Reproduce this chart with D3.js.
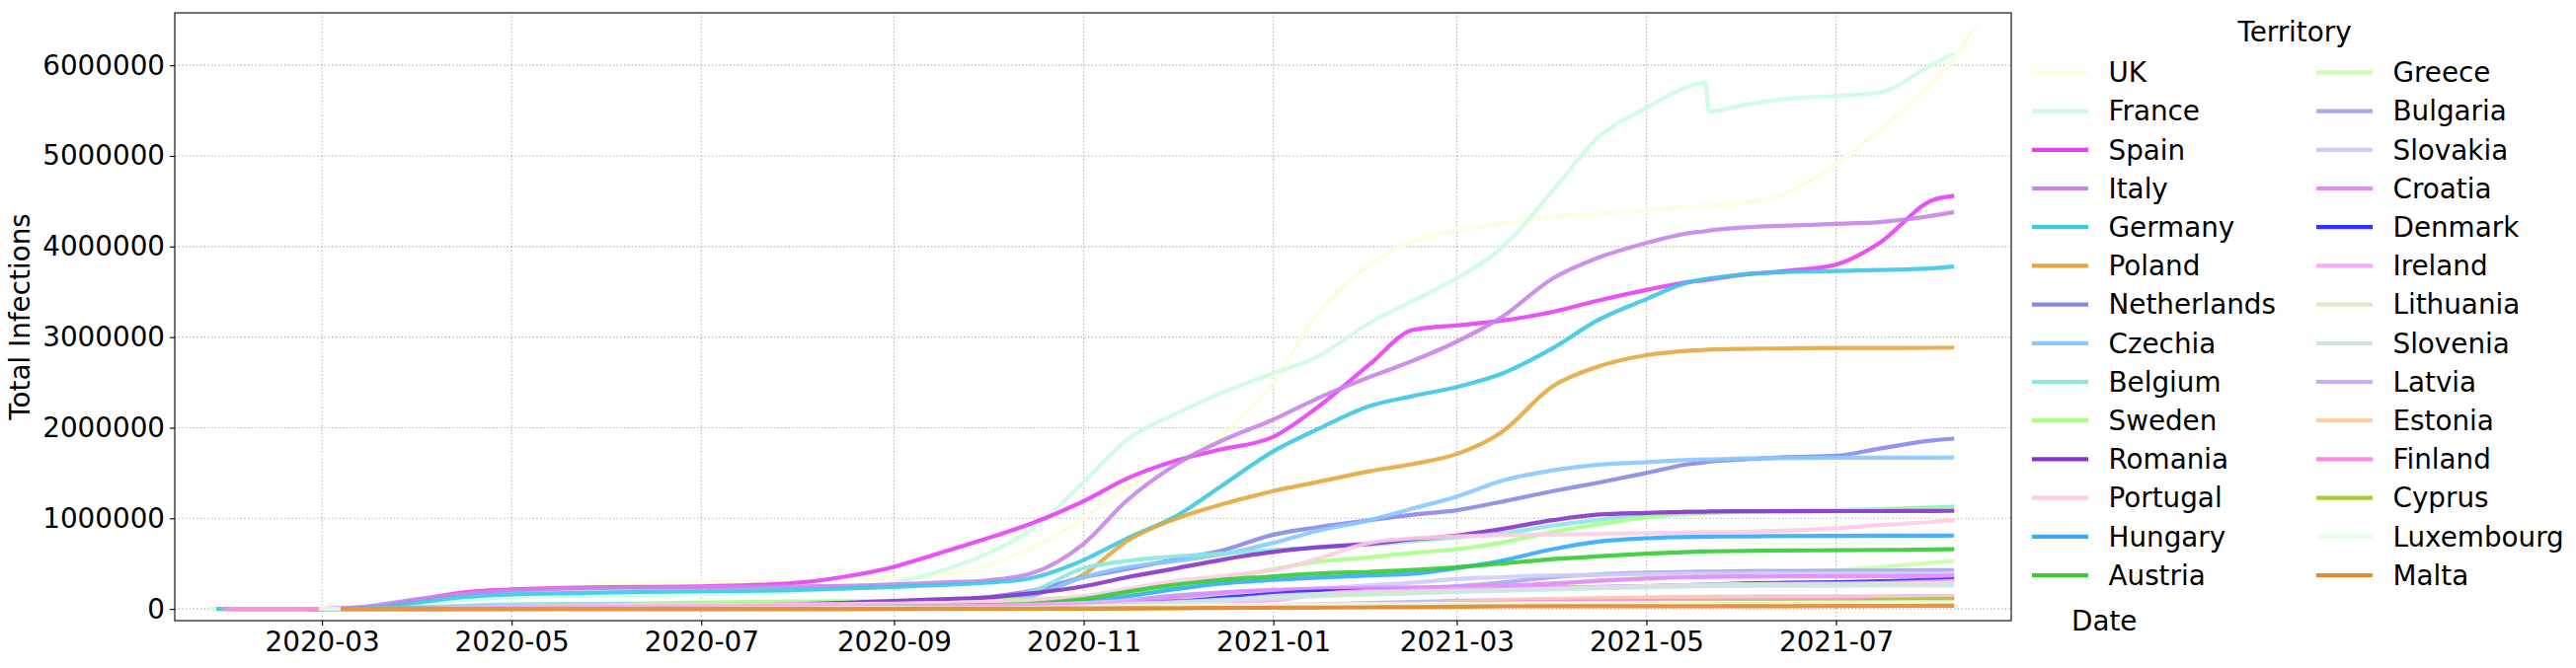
<!DOCTYPE html>
<html><head><meta charset="utf-8">
<script src="https://cdn.jsdelivr.net/npm/d3@7"></script>
<style>
body{margin:0;background:#fff;}
text{font-family:"DejaVu Sans",sans-serif;fill:#000;}
</style>
</head><body>
<svg id="chart" width="2609" height="677"></svg>
<script>
// ---- data (values in millions of total infections) ----
const dates = ["2020-01-25","2020-02-15","2020-03-01","2020-03-15","2020-04-01","2020-04-15","2020-05-01","2020-06-01","2020-07-01","2020-08-01","2020-08-15","2020-09-01","2020-09-15","2020-10-01","2020-10-15","2020-11-01","2020-11-15","2020-12-01","2020-12-15","2021-01-01","2021-01-15","2021-02-01","2021-02-15","2021-03-01","2021-03-15","2021-04-01","2021-04-15","2021-05-01","2021-05-15","2021-05-20","2021-05-21","2021-06-01","2021-06-15","2021-07-01","2021-07-15","2021-08-01","2021-08-08","2021-08-15"];

const territories = ["UK","France","Spain","Italy","Germany","Poland","Netherlands","Czechia","Belgium","Sweden","Romania","Portugal","Hungary","Austria","Greece","Bulgaria","Slovakia","Croatia","Denmark","Ireland","Lithuania","Slovenia","Latvia","Estonia","Finland","Cyprus","Luxembourg","Malta"];

const colors = ["#fdfde0","#ccfde4","#e83ef7","#c885e8","#3cc8e6","#e6a83c","#8888e8","#88c8ff","#88e8e4","#aaff88","#8833cc","#ffcce6","#33aaff","#33cc33","#ccffaa","#aaaae6","#ccccff","#e688ff","#3333ff","#ffaaff","#e6e6cc","#cce6e6","#ccaaff","#ffccaa","#ff88e6","#aacc33","#e6ffe6","#e68833"];

const startDates = ["2020-01-31","2020-01-25","2020-02-01","2020-01-31","2020-01-27","2020-03-04","2020-02-27","2020-03-01","2020-02-04","2020-01-31","2020-02-26","2020-03-02","2020-03-04","2020-02-25","2020-02-26","2020-03-08","2020-03-06","2020-02-25","2020-02-27","2020-03-01","2020-02-28","2020-03-04","2020-03-02","2020-02-27","2020-01-29","2020-03-09","2020-02-29","2020-03-07"];

const UK = [null,0,0,0.001,0.03,0.10,0.18,0.275,0.30,0.305,0.32,0.34,0.375,0.48,0.67,1.0,1.35,1.62,1.90,2.50,3.25,3.80,4.06,4.18,4.25,4.33,4.36,4.40,4.44,4.45,4.45,4.48,4.59,4.91,5.28,5.81,6.08,6.45];
const France = [0,0,0.0001,0.005,0.055,0.10,0.13,0.15,0.165,0.19,0.225,0.29,0.41,0.61,0.87,1.40,1.87,2.16,2.38,2.60,2.78,3.16,3.40,3.65,3.97,4.62,5.19,5.53,5.77,5.81,5.49,5.56,5.63,5.66,5.70,6.01,6.13,null];
const Spain = [null,0,0.0001,0.008,0.10,0.18,0.215,0.24,0.249,0.29,0.35,0.465,0.61,0.78,0.94,1.19,1.44,1.64,1.76,1.90,2.22,2.70,3.08,3.13,3.18,3.28,3.40,3.52,3.61,3.63,3.635,3.69,3.73,3.80,4.04,4.51,4.56,null];
const Italy = [null,0.0001,0.001,0.025,0.11,0.165,0.205,0.233,0.24,0.248,0.253,0.27,0.29,0.315,0.39,0.72,1.20,1.60,1.85,2.09,2.32,2.56,2.74,2.95,3.21,3.65,3.87,4.04,4.15,4.17,4.175,4.21,4.23,4.25,4.27,4.34,4.38,null];
const Germany = [null,0.0001,0.0001,0.006,0.07,0.13,0.162,0.182,0.195,0.21,0.224,0.243,0.263,0.29,0.34,0.54,0.78,1.03,1.35,1.74,1.98,2.24,2.35,2.45,2.59,2.88,3.18,3.42,3.61,3.64,3.645,3.69,3.72,3.73,3.74,3.76,3.78,null];
const Poland = [null,null,null,0.0001,0.0025,0.008,0.013,0.024,0.034,0.046,0.056,0.068,0.078,0.095,0.15,0.38,0.75,1.00,1.15,1.30,1.40,1.52,1.60,1.71,1.94,2.46,2.67,2.80,2.85,2.86,2.862,2.87,2.875,2.88,2.88,2.882,2.885,null];
const Netherlands = [null,null,0,0.001,0.013,0.029,0.04,0.047,0.05,0.055,0.063,0.072,0.088,0.13,0.2,0.35,0.44,0.55,0.64,0.82,0.90,0.98,1.04,1.09,1.18,1.30,1.39,1.50,1.60,1.62,1.625,1.65,1.675,1.69,1.77,1.86,1.88,null];
const Czechia = [null,null,null,0.0003,0.0035,0.006,0.0076,0.0093,0.012,0.016,0.019,0.025,0.04,0.07,0.14,0.35,0.46,0.53,0.60,0.73,0.86,0.98,1.11,1.24,1.41,1.53,1.59,1.62,1.645,1.65,1.65,1.66,1.665,1.67,1.67,1.67,1.672,null];
const Belgium = [null,0,0,0.001,0.013,0.034,0.05,0.059,0.062,0.07,0.078,0.086,0.095,0.12,0.19,0.45,0.53,0.58,0.61,0.65,0.675,0.71,0.75,0.79,0.83,0.92,0.98,1.04,1.06,1.065,1.067,1.077,1.085,1.09,1.10,1.12,1.13,null];
const Sweden = [null,0,0,0.001,0.005,0.012,0.021,0.038,0.072,0.081,0.084,0.086,0.089,0.094,0.105,0.13,0.18,0.25,0.33,0.44,0.52,0.57,0.62,0.66,0.73,0.85,0.93,1.01,1.05,1.055,1.057,1.07,1.08,1.09,1.095,1.10,1.105,null];
const Romania = [null,null,0,0.0001,0.0025,0.007,0.012,0.019,0.027,0.051,0.067,0.088,0.106,0.127,0.172,0.25,0.35,0.45,0.54,0.63,0.68,0.72,0.77,0.81,0.88,0.98,1.04,1.06,1.072,1.074,1.075,1.078,1.079,1.08,1.08,1.081,1.083,null];
const Portugal = [null,null,null,0.0002,0.008,0.018,0.025,0.033,0.042,0.051,0.053,0.059,0.067,0.077,0.095,0.14,0.22,0.31,0.36,0.43,0.55,0.73,0.78,0.80,0.814,0.822,0.829,0.837,0.844,0.846,0.846,0.85,0.865,0.89,0.925,0.96,0.98,null];
const Hungary = [null,null,null,0,0.0006,0.0017,0.0028,0.0039,0.0042,0.0045,0.0049,0.0063,0.015,0.03,0.047,0.09,0.14,0.22,0.28,0.32,0.345,0.37,0.39,0.45,0.53,0.66,0.74,0.78,0.795,0.797,0.798,0.80,0.805,0.807,0.808,0.809,0.81,null];
const Austria = [null,null,0,0.0008,0.01,0.014,0.0155,0.0167,0.0178,0.0206,0.0227,0.027,0.033,0.043,0.059,0.11,0.19,0.27,0.32,0.36,0.39,0.41,0.43,0.46,0.50,0.55,0.58,0.61,0.63,0.635,0.636,0.64,0.645,0.648,0.651,0.656,0.66,null];
const Greece = [null,null,0,0.0002,0.0013,0.0022,0.0026,0.0029,0.0034,0.0045,0.0068,0.01,0.013,0.019,0.024,0.039,0.075,0.11,0.124,0.14,0.15,0.157,0.172,0.195,0.225,0.27,0.31,0.345,0.37,0.375,0.377,0.39,0.41,0.425,0.46,0.51,0.53,null];
const Bulgaria = [null,null,null,0.0001,0.0004,0.0008,0.0015,0.0025,0.0054,0.011,0.014,0.016,0.018,0.021,0.029,0.053,0.095,0.15,0.18,0.20,0.21,0.22,0.23,0.25,0.29,0.35,0.38,0.40,0.41,0.413,0.413,0.418,0.42,0.422,0.423,0.427,0.43,null];
const Slovakia = [null,null,null,0.0001,0.0004,0.0009,0.0014,0.0015,0.0017,0.0022,0.0027,0.0036,0.0065,0.012,0.027,0.064,0.09,0.11,0.14,0.18,0.22,0.26,0.29,0.33,0.35,0.37,0.375,0.385,0.389,0.39,0.39,0.391,0.392,0.392,0.393,0.393,0.394,null];
const Croatia = [null,null,0,0.0001,0.0009,0.0017,0.0021,0.0022,0.0029,0.0052,0.0068,0.0097,0.013,0.016,0.022,0.041,0.075,0.13,0.18,0.21,0.225,0.232,0.237,0.243,0.255,0.28,0.31,0.335,0.35,0.353,0.354,0.357,0.359,0.36,0.361,0.363,0.366,null];
const Denmark = [null,null,0,0.0009,0.003,0.0065,0.009,0.0117,0.0128,0.0137,0.015,0.017,0.021,0.027,0.033,0.047,0.063,0.081,0.12,0.165,0.19,0.20,0.205,0.21,0.222,0.232,0.24,0.25,0.263,0.267,0.268,0.28,0.288,0.295,0.305,0.32,0.327,null];
const Ireland = [null,null,null,0.0002,0.0036,0.0125,0.021,0.025,0.0254,0.026,0.027,0.029,0.031,0.036,0.047,0.062,0.068,0.072,0.077,0.094,0.16,0.198,0.208,0.218,0.225,0.235,0.243,0.251,0.256,0.258,0.259,0.262,0.266,0.272,0.283,0.30,0.31,null];
const Lithuania = [null,null,0,0,0.0005,0.001,0.0014,0.0017,0.0018,0.0021,0.0024,0.0029,0.0035,0.0047,0.0074,0.015,0.03,0.054,0.09,0.142,0.165,0.182,0.192,0.20,0.207,0.22,0.235,0.25,0.264,0.267,0.268,0.273,0.276,0.278,0.28,0.285,0.29,null];
const Slovenia = [null,null,null,0.0002,0.0008,0.0012,0.0014,0.0015,0.0016,0.0021,0.0024,0.0029,0.0037,0.005,0.01,0.028,0.049,0.075,0.1,0.12,0.14,0.165,0.176,0.186,0.2,0.215,0.228,0.24,0.249,0.251,0.251,0.254,0.256,0.257,0.258,0.259,0.26,null];
const Latvia = [null,null,null,0,0.0004,0.0007,0.0009,0.0011,0.0011,0.0012,0.0013,0.0013,0.0015,0.0019,0.003,0.0055,0.01,0.016,0.026,0.041,0.051,0.066,0.077,0.09,0.098,0.106,0.114,0.123,0.131,0.132,0.133,0.135,0.136,0.137,0.138,0.139,0.14,null];
const Estonia = [null,null,0,0.0001,0.0008,0.0014,0.0017,0.0019,0.002,0.0021,0.0022,0.0024,0.0027,0.0034,0.0038,0.0047,0.0065,0.01,0.018,0.029,0.036,0.045,0.055,0.075,0.095,0.11,0.119,0.125,0.128,0.129,0.129,0.13,0.131,0.131,0.132,0.133,0.134,null];
const Finland = [null,0,0,0.0002,0.0014,0.003,0.005,0.0068,0.0072,0.0074,0.0077,0.0081,0.0087,0.0096,0.012,0.016,0.019,0.024,0.03,0.037,0.040,0.045,0.05,0.06,0.07,0.078,0.083,0.087,0.09,0.091,0.091,0.093,0.095,0.097,0.1,0.106,0.11,null];
const Cyprus = [null,null,null,0,0.0003,0.0007,0.0009,0.001,0.001,0.0011,0.0013,0.0015,0.0015,0.0018,0.0023,0.0037,0.0055,0.009,0.016,0.021,0.027,0.031,0.033,0.035,0.039,0.048,0.058,0.067,0.071,0.072,0.072,0.073,0.075,0.08,0.095,0.104,0.108,null];
const Luxembourg = [null,null,0,0.0001,0.0023,0.0034,0.0037,0.004,0.0046,0.0068,0.0075,0.0078,0.0084,0.0092,0.011,0.02,0.029,0.036,0.042,0.046,0.049,0.051,0.053,0.056,0.059,0.063,0.065,0.067,0.069,0.069,0.069,0.07,0.07,0.071,0.072,0.074,0.075,null];
const Malta = [null,null,null,0,0.0002,0.0004,0.0005,0.0006,0.0007,0.0008,0.0013,0.0019,0.0027,0.0031,0.0045,0.0058,0.0083,0.01,0.012,0.013,0.015,0.018,0.02,0.025,0.029,0.03,0.03,0.031,0.031,0.031,0.031,0.031,0.031,0.032,0.034,0.035,0.036,null];

const seriesValues = [UK,France,Spain,Italy,Germany,Poland,Netherlands,Czechia,Belgium,Sweden,Romania,Portugal,Hungary,Austria,Greece,Bulgaria,Slovakia,Croatia,Denmark,Ireland,Lithuania,Slovenia,Latvia,Estonia,Finland,Cyprus,Luxembourg,Malta];

const yTickValues = [0,1000000,2000000,3000000,4000000,5000000,6000000];
const yLabel = "Total Infections";
const xLabel = "Date";
const legendTitle = "Territory";

// ---- build series ----
const parse = d3.utcParse("%Y-%m-%d");
const gridDates = dates.map(parse);
const series = territories.map((name, i) => {
  const s = parse(startDates[i]);
  const pts = [{date: s, value: 0}];
  seriesValues[i].forEach((v, j) => {
    if (v !== null && gridDates[j] > s) pts.push({date: gridDates[j], value: v * 1e6});
  });
  return {name, color: colors[i], points: pts};
});

// ---- layout ----
const svg = d3.select("#chart");
const W = 2609, H = 677;
const m = {left: 177, right: 2037, top: 13, bottom: 629};
const FS = 27.8;

const allPts = series.flatMap(s => s.points);
const xExt = d3.extent(allPts, d => d.date);
const yExt = d3.extent(allPts, d => d.value);
const xPad = (xExt[1] - xExt[0]) * 0.02;
const yPad = (yExt[1] - yExt[0]) * 0.02;

const x = d3.scaleUtc()
  .domain([new Date(+xExt[0] - xPad), new Date(+xExt[1] + xPad)])
  .range([m.left, m.right]);
const y = d3.scaleLinear()
  .domain([yExt[0] - yPad, yExt[1] + yPad])
  .range([m.bottom, m.top]);

// gridlines
const xTicks = x.ticks(d3.utcMonth.every(2));
const grid = svg.append("g");
grid.selectAll("line.gx").data(xTicks).enter().append("line")
  .attr("x1", d => x(d)).attr("x2", d => x(d))
  .attr("y1", m.top).attr("y2", m.bottom)
  .attr("stroke", "#b0b0b0").attr("stroke-width", 1.1).attr("stroke-dasharray", "1.4,2.3");
grid.selectAll("line.gy").data(yTickValues).enter().append("line")
  .attr("x1", m.left).attr("x2", m.right)
  .attr("y1", d => y(d)).attr("y2", d => y(d))
  .attr("stroke", "#b0b0b0").attr("stroke-width", 1.1).attr("stroke-dasharray", "1.4,2.3");

// lines
const clip = svg.append("clipPath").attr("id", "clip").append("rect")
  .attr("x", m.left).attr("y", m.top).attr("width", m.right - m.left).attr("height", m.bottom - m.top);
const line = d3.line().x(d => x(d.date)).y(d => y(d.value)).curve(d3.curveMonotoneX);
svg.append("g").attr("clip-path", "url(#clip)")
  .selectAll("path").data(series).enter().append("path")
  .attr("d", d => line(d.points))
  .attr("fill", "none")
  .attr("stroke", d => d.color)
  .attr("stroke-width", 4.2)
  .attr("stroke-opacity", 0.9)
  .attr("stroke-linejoin", "round")
  .attr("stroke-linecap", "butt");

// axes
const xAxis = d3.axisBottom(x).tickValues(xTicks).tickFormat(d3.utcFormat("%Y-%m")).tickSize(5).tickPadding(6);
const gx = svg.append("g").attr("transform", `translate(0,${m.bottom})`).call(xAxis);
const yAxis = d3.axisLeft(y).tickValues(yTickValues).tickFormat(d3.format("d")).tickSize(5).tickPadding(5);
const gy = svg.append("g").attr("transform", `translate(${m.left},0)`).call(yAxis);
[gx, gy].forEach(g => {
  g.select(".domain").remove();
  g.selectAll("text").style("font-family", "DejaVu Sans").style("font-size", FS + "px").attr("fill", "#000");
  g.selectAll("line").attr("stroke", "#000").attr("stroke-width", 1.1);
});

// frame
svg.append("rect").attr("x", m.left).attr("y", m.top)
  .attr("width", m.right - m.left).attr("height", m.bottom - m.top)
  .attr("fill", "none").attr("stroke", "#000").attr("stroke-width", 1.1);

// axis labels
svg.append("text").attr("transform", `translate(30,${(m.top + m.bottom) / 2}) rotate(-90)`)
  .attr("text-anchor", "middle").style("font-size", FS + "px").text(yLabel);
svg.append("text").attr("x", 2098).attr("y", 639).style("font-size", FS + "px").text(xLabel);

// legend
const lg = svg.append("g");
lg.append("text").attr("x", 2324).attr("y", 42).attr("text-anchor", "middle")
  .style("font-size", FS + "px").text(legendTitle);
const rowH = 39.2, row0 = 73.4;
const colX = [2058, 2346];
series.forEach((s, i) => {
  const col = Math.floor(i / 14), row = i % 14;
  const yy = row0 + row * rowH;
  lg.append("line").attr("x1", colX[col]).attr("x2", colX[col] + 57)
    .attr("y1", yy).attr("y2", yy)
    .attr("stroke", s.color).attr("stroke-width", 4.2);
  lg.append("text").attr("x", colX[col] + 77.5).attr("y", yy + 9.8)
    .style("font-size", FS + "px").text(s.name);
});
</script>
</body></html>
